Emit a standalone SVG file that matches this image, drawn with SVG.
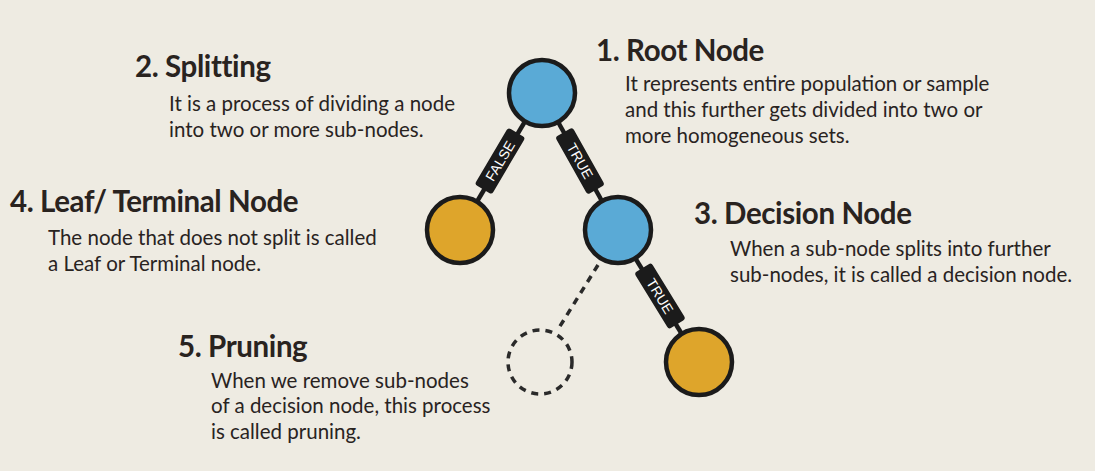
<svg xmlns="http://www.w3.org/2000/svg" width="1095" height="471" viewBox="0 0 1095 471">
<style>
.h{font-family:Lato,"Liberation Sans",sans-serif;font-weight:700;font-size:29.5px;letter-spacing:-0.4px;fill:#29231f}
.b{font-family:Lato,"Liberation Sans",sans-serif;font-size:20.5px;fill:#29231f}
.n{stroke:#1b1b1b;stroke-width:4.5}
.blue{fill:#5aaad6}
.or{fill:#dea52b}
.e{stroke:#1b1b1b;stroke-width:4.5;fill:none}
.d{stroke:#2a2a2a;stroke-width:3.5;fill:none;stroke-dasharray:7 6}
.lb{fill:#1b1b1b}
.lt{font-family:"Liberation Sans Narrow","Liberation Sans",sans-serif;font-size:14px;fill:#fff;text-anchor:middle}
</style>
<rect width="1095" height="471" fill="#eeebe2"/>
<g id="connectors">
<line class="e" x1="542" y1="93" x2="460" y2="230"/>
<line class="e" x1="542" y1="93" x2="618" y2="230"/>
<line class="e" x1="618" y1="230" x2="699" y2="362"/>
<line class="d" x1="598" y1="265" x2="557" y2="331"/>
<g transform="translate(500,161) rotate(-59.4)"><rect class="lb" x="-33" y="-10" width="66" height="20" rx="3"/><text class="lt" x="0" y="5">FALSE</text></g>
<g transform="translate(580,161) rotate(60.7)"><rect class="lb" x="-33" y="-10" width="66" height="20" rx="3"/><text class="lt" x="0" y="5">TRUE</text></g>
<g transform="translate(660,296) rotate(58.5)"><rect class="lb" x="-33" y="-10" width="66" height="20" rx="3"/><text class="lt" x="0" y="5">TRUE</text></g>
</g>
<g id="root"><circle class="n blue" cx="542" cy="93" r="33"/></g>
<g id="leaf-left"><circle class="n or" cx="460" cy="230" r="33"/></g>
<g id="decision"><circle class="n blue" cx="618" cy="230" r="33"/></g>
<g id="leaf-bottom"><circle class="n or" cx="699" cy="362" r="33"/></g>
<g id="pruned"><circle class="d" cx="540" cy="362" r="32"/></g>
<g id="t1"><text class="h" x="596" y="61">1. Root Node</text>
<text class="b" x="625" y="91">It represents entire population or sample</text>
<text class="b" x="625" y="117">and this further gets divided into two or</text>
<text class="b" x="625" y="143">more homogeneous sets.</text></g>
<g id="t2"><text class="h" x="135" y="77">2. Splitting</text>
<text class="b" x="169" y="111">It is a process of dividing a node</text>
<text class="b" x="169" y="137">into two or more sub-nodes.</text></g>
<g id="t3"><text class="h" x="694" y="224">3. Decision Node</text>
<text class="b" x="730" y="256">When a sub-node splits into further</text>
<text class="b" x="730" y="282">sub-nodes, it is called a decision node.</text></g>
<g id="t4"><text class="h" x="10" y="212">4. Leaf/ Terminal Node</text>
<text class="b" x="48" y="245">The node that does not split is called</text>
<text class="b" x="48" y="271">a Leaf or Terminal node.</text></g>
<g id="t5"><text class="h" x="178" y="357">5. Pruning</text>
<text class="b" x="211" y="388">When we remove sub-nodes</text>
<text class="b" x="211" y="413">of a decision node, this process</text>
<text class="b" x="211" y="439">is called pruning.</text></g>
</svg>
